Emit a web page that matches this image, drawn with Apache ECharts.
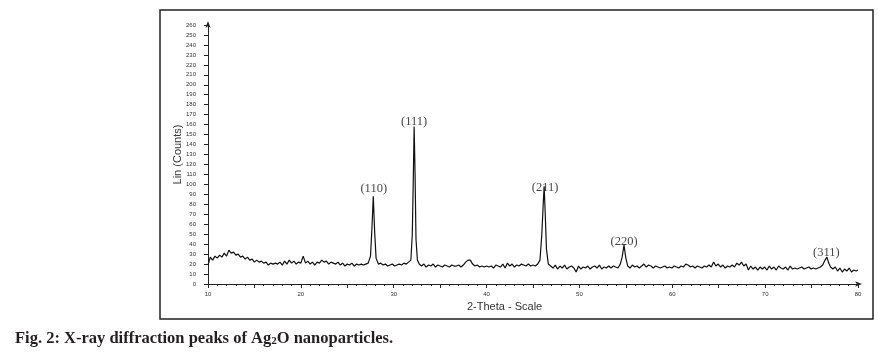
<!DOCTYPE html>
<html>
<head>
<meta charset="utf-8">
<script src="https://cdn.jsdelivr.net/npm/echarts@6/dist/echarts.min.js"></script>
<style>html,body{margin:0;padding:0;background:#fff}#c{width:879px;height:354px}</style>
</head>
<body>
<div id="c"></div>
<script>
// 2-theta (degrees)
const twoTheta = [
10.00,10.25,10.50,10.75,11.00,11.25,11.50,11.75,12.00,12.25,12.50,12.75,13.00,13.25,13.50,13.75,14.00,14.25,14.50,14.75,
15.00,15.25,15.50,15.75,16.00,16.25,16.50,16.75,17.00,17.25,17.50,17.75,18.00,18.25,18.50,18.75,19.00,19.25,19.50,19.75,
20.00,20.25,20.50,20.75,21.00,21.25,21.50,21.75,22.00,22.25,22.50,22.75,23.00,23.25,23.50,23.75,24.00,24.25,24.50,24.75,
25.00,25.25,25.50,25.75,26.00,26.25,26.50,26.75,27.00,27.25,27.50,27.65,27.80,27.95,28.10,28.35,28.60,28.85,29.10,29.35,
29.60,29.85,30.10,30.35,30.60,30.85,31.10,31.35,31.60,31.85,32.00,32.10,32.20,32.30,32.40,32.55,32.75,33.00,33.25,33.50,
33.75,34.00,34.25,34.50,34.75,35.00,35.25,35.50,35.75,36.00,36.25,36.50,36.75,37.00,37.25,37.50,37.75,38.00,38.25,38.50,
38.75,39.00,39.25,39.50,39.75,40.00,40.25,40.50,40.75,41.00,41.25,41.50,41.75,42.00,42.25,42.50,42.75,43.00,43.25,43.50,
43.75,44.00,44.25,44.50,44.75,45.00,45.25,45.50,45.75,45.95,46.10,46.20,46.30,46.45,46.65,46.90,47.15,47.40,47.65,47.90,
48.15,48.40,48.65,48.90,49.15,49.40,49.65,49.90,50.15,50.40,50.65,50.90,51.15,51.40,51.65,51.90,52.15,52.40,52.65,52.90,
53.15,53.40,53.65,53.90,54.15,54.40,54.60,54.80,55.00,55.20,55.45,55.70,55.95,56.20,56.45,56.70,56.95,57.20,57.45,57.70,
57.95,58.20,58.45,58.70,58.95,59.20,59.45,59.70,59.95,60.20,60.45,60.70,60.95,61.20,61.45,61.70,61.95,62.20,62.45,62.70,
62.95,63.20,63.45,63.70,63.95,64.20,64.45,64.70,64.95,65.20,65.45,65.70,65.95,66.20,66.45,66.70,66.95,67.20,67.45,67.70,
67.95,68.20,68.45,68.70,68.95,69.20,69.45,69.70,69.95,70.20,70.45,70.70,70.95,71.20,71.45,71.70,71.95,72.20,72.45,72.70,
72.95,73.20,73.45,73.70,73.95,74.20,74.45,74.70,74.95,75.20,75.45,75.70,75.95,76.20,76.45,76.65,76.85,77.05,77.30,77.55,
77.80,78.05,78.30,78.55,78.80,79.05,79.30,79.55,79.80,80.00
];
// Lin (Counts)
const counts = [
19,27,24,28,26,29,27,31,28,34,31,32,29,30,27,28,25,27,24,25,
22,24,22,23,21,22,19,21,20,21,20,22,19,23,20,24,21,23,20,22,
21,28,21,23,20,22,19,22,21,24,22,23,20,22,21,20,22,19,21,18,
20,19,21,18,20,19,20,19,20,21,28,55,88,52,26,20,21,19,20,18,
19,20,18,19,20,19,21,20,22,24,50,100,158,110,45,24,20,18,20,17,
19,18,20,17,19,18,17,19,18,17,19,18,18,19,17,19,22,24,24,20,
18,19,17,18,17,18,17,18,16,19,18,17,20,16,21,18,20,17,19,18,
20,19,18,20,18,19,18,20,24,50,80,98,75,35,20,18,16,19,15,18,
16,19,15,17,18,16,12,18,15,17,16,18,15,17,18,16,19,15,17,16,
18,16,18,17,16,20,27,39,26,18,16,19,17,18,16,18,20,17,19,18,
16,18,17,16,17,18,16,17,16,18,17,16,18,17,20,19,17,18,16,18,
17,16,18,17,19,17,22,18,20,17,19,16,18,17,19,17,21,19,22,18,
20,14,18,15,17,14,17,15,17,14,18,15,17,14,18,16,15,17,14,18,
15,16,15,16,17,15,16,17,15,16,15,16,17,19,24,27,21,17,15,17,
13,16,12,15,13,16,12,14,13,14
];
// Peak annotations
const peakLabels = ['(110)', '(111)', '(211)', '(220)', '(311)'];
const peakTheta = [27.85, 32.2, 46.3, 54.8, 76.6];
const peakLabelCounts = [96, 163, 97, 42, 31];
// Tick labels
const yMax = 260;
const xMin = 10, xMax = 80;

const chart = echarts.init(document.getElementById('c'), null, {renderer: 'canvas'});
const lineData = twoTheta.map((t, i) => [t, counts[i]]);
const labelData = peakTheta.map((t, i) => ({value: [t, peakLabelCounts[i]], name: peakLabels[i]}));

chart.setOption({
  backgroundColor: '#ffffff',
  animation: false,
  grid: {left: 208, right: 21, top: 25, bottom: 70},
  xAxis: {
    type: 'value', min: xMin, max: xMax, interval: 5,
    axisLine: {show: true, lineStyle: {color: '#222', width: 1}, symbol: ['none', 'arrow'], symbolSize: [4, 7], symbolOffset: [0, 4]},
    axisTick: {show: true, length: 4, lineStyle: {color: '#222'}},
    minorTick: {show: true, splitNumber: 5, length: 2, lineStyle: {color: '#222'}},
    splitLine: {show: false},
    axisLabel: {fontSize: 6, color: '#333', margin: 7, fontFamily: 'Liberation Sans',
      formatter: v => (v % 10 === 0 ? String(v) : '')}
  },
  yAxis: {
    type: 'value', min: 0, max: yMax, interval: 10,
    name: 'Lin (Counts)', nameLocation: 'middle', nameGap: 25, nameMoveOverlap: false,
    nameTextStyle: {fontSize: 11, color: '#333', fontFamily: 'Liberation Sans'},
    axisLine: {show: true, lineStyle: {color: '#222', width: 1}, symbol: ['none', 'arrow'], symbolSize: [4, 7], symbolOffset: [0, 4]},
    axisTick: {show: true, length: 4, lineStyle: {color: '#222'}},
    splitLine: {show: false},
    axisLabel: {fontSize: 6, color: '#333', margin: 12, fontFamily: 'Liberation Sans'}
  },
  series: [
    {
      type: 'line', data: lineData, showSymbol: false, symbol: 'none',
      lineStyle: {color: '#111', width: 1.2}, z: 2
    },
    {
      type: 'scatter', data: labelData, symbolSize: 0, z: 3,
      label: {show: true, position: 'inside', formatter: p => p.name,
        fontFamily: 'Liberation Serif', fontSize: 12.5, color: '#111'}
    }
  ],
  graphic: [
    {type: 'rect', shape: {x: 160, y: 10, width: 713, height: 309},
     style: {fill: 'none', stroke: '#222', lineWidth: 1.5}, silent: true},
    {type: 'text', left: 467, top: 301,
     style: {text: '2-Theta - Scale', fontSize: 11, fill: '#333', fontFamily: 'Liberation Sans'}},
    {type: 'text', left: 15, top: 330,
     style: {
       text: '{a|Fig. 2: X-ray diffraction peaks of Ag}{s|2}{a|O nanoparticles.}',
       rich: {
         a: {fontSize: 16.5, fontWeight: 'bold', fontFamily: 'Liberation Serif', fill: '#231f20', verticalAlign: 'bottom'},
         s: {fontSize: 11, fontWeight: 'bold', fontFamily: 'Liberation Serif', fill: '#231f20', padding: [6, 0, 0, 0], verticalAlign: 'bottom'}
       }
     }}
  ]
});
</script>
</body>
</html>
